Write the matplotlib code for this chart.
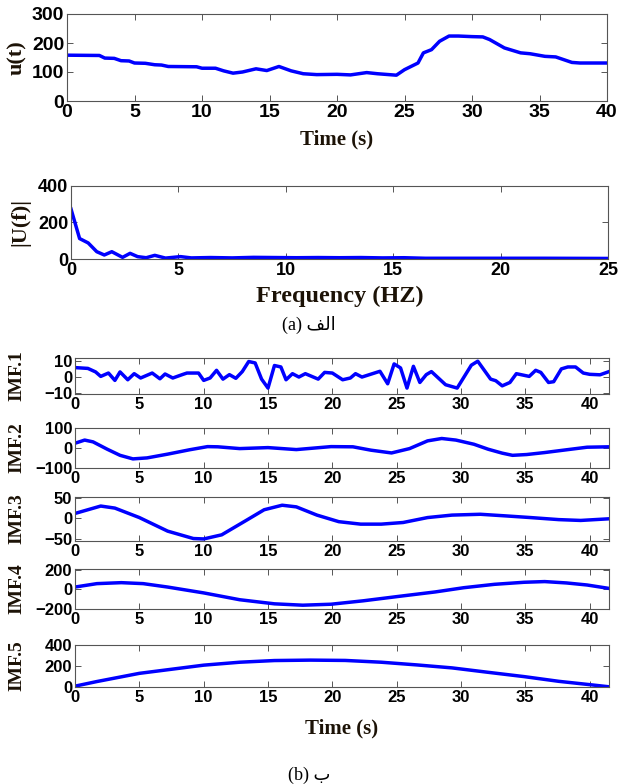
import numpy as np
import matplotlib
matplotlib.use('Agg')
import matplotlib.pyplot as plt

# u(t) signal (s, value)
t_u = [0, 2.4, 2.8, 3.5, 4.0, 4.6, 5.0, 5.8, 6.5, 7.0, 7.5, 9.6, 10.0, 11.0, 11.6, 12.3, 13.0,
       14.0, 14.8, 15.7, 16.6, 17.5, 18.5, 20.0, 21.0, 22.2, 23.0, 24.4, 25.0, 26.0, 26.4,
       27.0, 27.6, 28.3, 29.0, 30.0, 30.8, 31.3, 32.4, 33.6, 34.3, 35.4, 36.2, 37.4, 38.0, 40.0]
u_t = [158, 157, 148, 147, 139, 138, 131, 130, 125, 124, 119, 118, 113, 113, 104, 96, 100,
       111, 105, 119, 104, 94, 91, 92, 90, 98, 94, 89, 108, 131, 166,
       177, 206, 224, 224, 222, 221, 212, 183, 166, 163, 154, 152, 133, 131, 131]

# spectrum |U(f)|
f_U = [0, 0.4, 0.8, 1.2, 1.55, 1.9, 2.4, 2.75, 3.1, 3.5, 3.9, 4.4, 5.1, 5.6, 6.5, 7.5, 8.5,
       9.5, 10.5, 11.5, 12.5, 13.5, 14.5, 15.5, 16.5, 18, 20, 22, 25]
U_f = [274, 112, 88, 40, 22, 40, 9, 31, 13, 7, 20, 5, 13, 6, 8, 6, 9,
       8, 7, 8, 7, 8, 6, 7, 4, 4, 4, 4, 3]

# IMF components
t1 = [0, 1.0, 1.6, 2.0, 2.6, 3.1, 3.5, 4.1, 4.6, 5.1, 6.0, 6.6, 7.0, 7.6, 8.4, 8.7, 9.6,
      10.0, 10.5, 11.0, 11.5, 12.0, 12.5, 13.0, 13.5, 14.0, 14.5, 15.0, 15.5, 16.0, 16.4,
      16.9, 17.4, 17.9, 18.4, 18.9, 19.4, 20.0, 20.8, 21.4, 21.8, 22.3, 23.7, 24.3, 24.8,
      25.3, 25.8, 26.3, 26.8, 27.3, 27.7, 28.8, 29.7, 30.8, 31.3, 32.3, 32.7, 33.2, 33.8,
      34.3, 35.3, 35.8, 36.2, 36.8, 37.2, 37.8, 38.3, 38.9, 39.5, 40.0, 40.8, 41.5]
imf1 = [6, 5.5, 3.3, 0.5, 2.6, -2, 3.3, -1.6, 2.2, -0.5, 2.6, -1, 2, -0.5, 1.8, 2.6, 2.6,
        -2, -0.5, 4.3, -1.2, 1.6, -0.7, 3.5, 9.8, 8.9, -1.2, -6.8, 7.3, 6.4, -1.6,
        2.2, 0.1, 2.2, 0.5, -1.2, 3, 2.6, -1.6, -0.5, 2.2, 0.1, 3.7, -4.1, 8.3,
        5.8, -6.8, 6.8, -3.3, 1.6, 3.5, -4.7, -6.8, 7.5, 10, -1.2, -2.2, -5.4, -3.3,
        2.2, 0.5, 4.3, 3, -3.3, -2.8, 5.2, 6.4, 6.4, 2.6, 1.8, 1.5, 3.5]

t2 = [0, 0.75, 1.4, 2.5, 3.5, 4.5, 5.6, 7.2, 8.9, 10.3, 11.1, 12.8, 15.0, 17.2, 19.9, 21.6,
      23.0, 24.6, 26.0, 27.4, 28.5, 29.6, 31.0, 32.1, 33.2, 34.0, 35.1, 36.5, 38.2, 39.8, 41.5]
imf2 = [25, 41, 32, -5, -36, -54, -49, -30, -8, 8, 7, -2, 3, -7, 8, 7,
        -10, -24, -2, 37, 49, 41, 20, -5, -25, -36, -32, -22, -8, 5, 7]

t3 = [0, 2.0, 3.1, 5.0, 7.2, 9.2, 10.0, 11.4, 13.3, 14.7, 16.1, 17.2, 18.8, 20.5, 22.2,
      23.8, 25.5, 27.4, 29.3, 31.5, 33.5, 35.4, 37.6, 39.3, 41.5]
imf3 = [12, 30, 25, 2, -31, -49, -50, -40, -5, 21, 32, 28, 8, -8, -14,
        -14, -10, 2, 8, 10, 6, 2, -3, -5, -1]

t4 = [0, 1.7, 3.6, 5.3, 7.2, 10.0, 12.8, 15.5, 17.7, 19.9, 22.4, 25.2, 28.0, 30.2, 32.6,
      34.9, 36.5, 38.2, 39.8, 41.5]
imf4 = [25, 60, 70, 60, 25, -35, -105, -147, -161, -151, -116, -70, -25, 18, 53,
        74, 81, 67, 46, 11]

t5 = [0, 1.7, 5.0, 10.0, 12.8, 15.5, 18.3, 21.0, 23.8, 26.6, 29.3, 32.1, 34.9, 37.6, 39.8, 41.5]
imf5 = [8, 52, 130, 208, 236, 252, 256, 253, 236, 210, 182, 140, 99, 54, 25, 2]

W, H = 618, 784
fig = plt.figure(figsize=(W / 100, H / 100), dpi=100)

blue = '#0000ff'
lab_col = '#1c1206'
lab_font = dict(family='Liberation Serif', weight='bold')


def ax_px(left, top, right, bottom):
    return fig.add_axes([left / W, 1 - bottom / H, (right - left) / W, (bottom - top) / H])


def style(ax, fs):
    ax.tick_params(direction='in', top=True, right=True, length=4, width=0.7,
                   color='#555555', pad=2, labelsize=fs)
    for lab in ax.get_xticklabels() + ax.get_yticklabels():
        lab.set_fontfamily('Liberation Sans')
        lab.set_fontweight('bold')
    for s in ax.spines.values():
        s.set_color('#555555')
        s.set_linewidth(0.8)


# xpx = right edge of the rotated label, in pixels
def ylab(ax, text, xpx, left, right, fs):
    ax.set_ylabel(text, fontsize=fs, color=lab_col, **lab_font)
    ax.yaxis.set_label_coords((xpx - left) / (right - left), 0.5)


# u(t)
ax = ax_px(67, 14, 607, 101)
ax.plot(t_u, u_t, color=blue, lw=2.5)
ax.set_xlim(0, 40)
ax.set_ylim(0, 300)
ax.set_xticks(np.arange(0, 41, 5))
ax.set_yticks([0, 100, 200, 300])
style(ax, 14)
ylab(ax, 'u(t)', 27, 67, 607, 16)
ax.set_xlabel('Time (s)', fontsize=15, color=lab_col, labelpad=6, **lab_font)

# |U(f)|
ax = ax_px(71, 186, 608, 259)
ax.plot(f_U, U_f, color=blue, lw=2.5)
ax.set_xlim(0, 25)
ax.set_ylim(0, 400)
ax.set_xticks(np.arange(0, 26, 5))
ax.set_yticks([0, 200, 400])
style(ax, 13)
ylab(ax, '|U(f)|', 30, 71, 608, 16)
ax.set_xlabel('Frequency (HZ)', fontsize=17.5, color=lab_col, labelpad=5, **lab_font)

fig.text(0.5, 1 - 325 / H, '(a) \ufed2\ufedf\ufe8d', ha='center', va='center', fontsize=13,
         family=['Liberation Serif', 'DejaVu Sans'])

imfs = [
    (t1, imf1, (-10.5, 12), [-10, 0, 10], 358, 394, 'IMF.1'),
    (t2, imf2, (-100, 102), [-100, 0, 100], 428, 468, 'IMF.2'),
    (t3, imf3, (-55, 52), [-50, 0, 50], 497, 541, 'IMF.3'),
    (t4, imf4, (-200, 210), [-200, 0, 200], 569, 609, 'IMF.4'),
    (t5, imf5, (0, 400), [0, 200, 400], 645, 687, 'IMF.5'),
]
for tt, yy, yl, yt, top, bot, name in imfs:
    ax = ax_px(75, top, 609, bot)
    ax.plot(tt, yy, color=blue, lw=2.5)
    ax.set_xlim(0, 41.5)
    ax.set_ylim(*yl)
    ax.set_xticks(np.arange(0, 41, 5))
    ax.set_yticks(yt)
    style(ax, 12)
    ylab(ax, name, 25, 75, 609, 14)

ax.set_xlabel('Time (s)', fontsize=15, color=lab_col, labelpad=10, **lab_font)

fig.text(0.5, 1 - 775 / H, '(b) \u0628', ha='center', va='center', fontsize=13,
         family=['Liberation Serif', 'DejaVu Sans'])

fig.savefig('out.png', dpi=100, facecolor='white')
